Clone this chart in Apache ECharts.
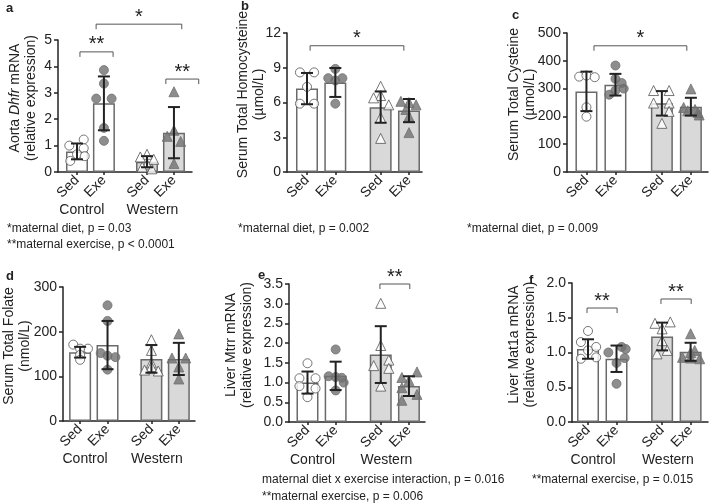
<!DOCTYPE html>
<html>
<head>
<meta charset="UTF-8">
<script src="https://cdn.jsdelivr.net/npm/echarts@6/dist/echarts.min.js"></script>
</head>
<body style="margin:0;background:#fff;">
<div id="main" style="width:709px;height:504px"></div>
<script type="text/javascript">
// categories
var barNames = ['Sed', 'Exe', 'Sed', 'Exe'];
var dietNames = ['Control', 'Western'];

// a: Aorta Dhfr mRNA
var aMean = [0.78, 2.6, 0.39, 1.49];
var aSD = [0.3, 1.02, 0.21, 0.97];
var aPts = [[1.23, 1.0, 0.9, 0.67, 0.6, 0.42], [3.86, 3.35, 2.78, 2.78, 1.67, 1.18], [0.67, 0.57, 0.48, 0.3, 0.19, 0.12], [3.04, 1.58, 1.35, 1.16, 0.32]];
var aSig = [[1.71, 4.89, 5.6, '*'], [1.11, 2.34, 4.55, '**'], [4.3, 5.52, 3.52, '**']];

// b: Serum Total Homocysteine
var bMean = [7.2, 7.73, 5.6, 5.3];
var bSD = [1.35, 1.25, 1.35, 1.0];
var bPts = [[8.6, 8.6, 7.35, 5.9, 5.9], [8.9, 8.1, 8.1, 7.9, 5.9], [7.4, 6.6, 6.4, 5.8, 4.7, 2.9], [6.1, 6.0, 5.8, 5.4, 4.8, 3.4]];
var bSig = [[1.11, 4.42, 10.9, '*']];

// c: Serum Total Cysteine
var cMean = [290, 314, 247, 235];
var cSD = [71, 39, 44, 32];
var cPts = [[343, 347, 341, 233, 199], [383, 335, 320, 300, 293, 278], [293, 293, 248, 248, 218, 175], [299, 232, 225, 220, 214, 205]];
var cSig = [[1.26, 4.46, 454, '*']];

// d: Serum Total Folate
var dMean = [154, 170, 139, 139];
var dSD = [12, 54, 31, 36];
var dPts = [[171, 162, 162, 148, 137], [259, 224, 152, 146, 143, 115], [182, 158, 130, 122, 114, 112], [195, 141, 141, 121, 94]];
var dSig = [];

// e: Liver Mtrr mRNA
var eMean = [1.0, 1.17, 1.71, 0.91];
var eSD = [0.28, 0.36, 0.72, 0.25];
var ePts = [[1.49, 1.11, 1.11, 0.91, 0.85, 0.63], [1.84, 1.16, 1.14, 1.12, 1.0, 0.8], [3.01, 1.94, 1.57, 1.43, 1.36, 0.91], [1.27, 1.13, 1.05, 0.87, 0.7, 0.55]];
var eSig = [[3.57, 4.63, 3.5, '**']];

// f: Liver Mat1a mRNA
var fMean = [1.05, 0.91, 1.23, 1.01];
var fSD = [0.14, 0.19, 0.2, 0.13];
var fPts = [[1.31, 1.15, 1.08, 1.03, 0.93, 0.91], [1.08, 1.05, 1.0, 0.92, 0.85, 0.55], [1.44, 1.42, 1.34, 1.17, 1.03, 0.98], [1.27, 1.03, 1.0, 0.93, 0.92, 0.91]];
var fSig = [[0.965, 2.02, 1.64, '**'], [3.56, 4.62, 1.77, '**']];

// horizontal scatter of dots (px) around each bar
var aJit = [[7, -8, 7, 0, 8, -7], [0, 0, -8, 8, 0, 0], [0, -7, 7, 0, -5, 5], [0, 0, -7, 7, 0]];
var bJit = [[-7, 7, 0, -7, 7], [0, -7, 7, 0, 0], [0, 0, -7, 8, 0, 0], [-8, 0, 7, -3, 0, 0]];
var cJit = [[-7, 0, 8, 0, 0], [0, 0, 6, 8, 0, -6], [-8, 7, -8, 7, 7, 0], [0, -7, 4, -3, 7, 8]];
var dJit = [[-7, 8, 0, 0, 0], [0, 0, -7, 0, 8, 0], [0, 0, 0, 0, -7, 7], [0, -7, 7, 0, 0]];
var eJit = [[0, -8, 8, -8, 8, 0], [0, -7, 0, 6, 8, 0], [0, 0, 8, -7, 8, 0], [8, -7, 0, -7, 8, -7]];
var fJit = [[0, -7, 8, 0, 8, -7], [5, 9, -8, 8, 0, 0], [8, -7, 0, 0, 5, -5], [0, 4, 0, -8, 0, 9]];

var FONT = 'Liberation Sans, Arial, Helvetica, sans-serif';
var INK = '#222';
var EDGE = '#6a6a6a';
var DOT = '#707070';
var WEST = '#d9d9d9';
var xPos = [1, 2, 3.6, 4.6];
var dietPos = [1.18, 3.8];

var panels = [
    {grid: {left: 58, top: 40, width: 134, height: 132}, xMin: 0.295, xMax: 5.27, yMax: 5, step: 1, dec: 0,
     name: 'Aorta {i|Dhfr} mRNA\n(relative expression)', gap: 19, diet: true,
     mean: aMean, sd: aSD, pts: aPts, jit: aJit, sig: aSig},
    {grid: {left: 287, top: 33, width: 135, height: 139}, xMin: 0.294, xMax: 5.06, yMax: 12, step: 3, dec: 0,
     name: 'Serum Total Homocysteine\n(µmol/L)', gap: 20, diet: false,
     mean: bMean, sd: bSD, pts: bPts, jit: bJit, sig: bSig},
    {grid: {left: 567, top: 33, width: 141, height: 139}, xMin: 0.33, xMax: 5.19, yMax: 500, step: 100, dec: 0,
     name: 'Serum Total Cysteine\n(µmol/L)', gap: 29, diet: false,
     mean: cMean, sd: cSD, pts: cPts, jit: cJit, sig: cSig},
    {grid: {left: 60, top: 287, width: 135, height: 134}, xMin: 0.376, xMax: 5.19, yMax: 300, step: 100, dec: 0,
     name: 'Serum Total Folate\n(nmol/L)', gap: 30, diet: true,
     mean: dMean, sd: dSD, pts: dPts, jit: dJit, sig: dSig},
    {grid: {left: 289, top: 284, width: 136, height: 138}, xMin: 0.344, xMax: 5.17, yMax: 3.5, step: 0.5, dec: 1,
     name: 'Liver Mtrr mRNA\n(relative expression)', gap: 34, diet: true,
     mean: eMean, sd: eSD, pts: ePts, jit: eJit, sig: eSig},
    {grid: {left: 572, top: 283, width: 136, height: 139}, xMin: 0.438, xMax: 5.21, yMax: 2, step: 0.5, dec: 1,
     name: 'Liver Mat1a mRNA\n(relative expression)', gap: 34, diet: true,
     mean: fMean, sd: fSD, pts: fPts, jit: fJit, sig: fSig}
];

// error bar: mean +/- SD with caps
function renderErr(params, api) {
    var x = api.value(0), m = api.value(1), s = api.value(2);
    var t = api.coord([x, m + s]), b = api.coord([x, m - s]);
    var w = 6, st = {stroke: INK, lineWidth: 2};
    return {type: 'group', children: [
        {type: 'line', shape: {x1: t[0], y1: t[1], x2: b[0], y2: b[1]}, style: st},
        {type: 'line', shape: {x1: t[0] - w, y1: t[1], x2: t[0] + w, y2: t[1]}, style: st},
        {type: 'line', shape: {x1: b[0] - w, y1: b[1], x2: b[0] + w, y2: b[1]}, style: st}
    ]};
}

// significance bracket
function bracketRenderer(sig) {
    return function (params, api) {
        var s = sig[params.dataIndex];
        var p1 = api.coord([s[0], s[2]]), p2 = api.coord([s[1], s[2]]);
        return {type: 'group', children: [
            {type: 'polyline', shape: {points: [[p1[0], p1[1] + 5], [p1[0], p1[1]], [p2[0], p2[1]], [p2[0], p2[1] + 5]]},
             style: {stroke: '#555', lineWidth: 1, fill: null}},
            {type: 'text', style: {text: s[3], x: (p1[0] + p2[0]) / 2, y: p1[1] - 7, fill: INK,
             fontSize: 20, fontFamily: FONT, align: 'center', verticalAlign: 'middle'}}
        ]};
    };
}

var grids = [], xAxes = [], yAxes = [], series = [];
panels.forEach(function (p, i) {
    grids.push(p.grid);
    xAxes.push({
        gridIndex: i, type: 'value', min: p.xMin, max: p.xMax,
        axisLine: {show: true, onZero: false, lineStyle: {color: INK, width: 1.5}},
        axisTick: {show: true, length: 3, customValues: xPos, lineStyle: {color: INK, width: 1.5}},
        axisLabel: {customValues: xPos, rotate: 45, fontSize: 14, fontFamily: FONT, color: INK, margin: 6,
            formatter: function (v) { return barNames[xPos.indexOf(v)]; }},
        splitLine: {show: false}
    });
    xAxes.push({
        gridIndex: i, type: 'value', min: p.xMin, max: p.xMax, position: 'bottom', offset: 23, show: p.diet,
        axisLine: {show: false}, axisTick: {show: false}, splitLine: {show: false},
        axisLabel: {customValues: dietPos, fontSize: 14, fontFamily: FONT, color: INK,
            formatter: function (v) { return v < 2.5 ? dietNames[0] : dietNames[1]; }}
    });
    yAxes.push({
        gridIndex: i, type: 'value', min: 0, max: p.yMax, interval: p.step,
        name: p.name, nameLocation: 'middle', nameRotate: 90, nameGap: p.gap, nameMoveOverlap: false,
        nameTextStyle: {fontSize: 14, fontFamily: FONT, color: INK, lineHeight: 16, padding: [0, 0, 0, 16],
            rich: {i: {fontStyle: 'italic', fontSize: 14, fontFamily: FONT, color: INK}}},
        axisLine: {show: true, lineStyle: {color: INK, width: 1.5}},
        axisTick: {show: true, length: 4, lineStyle: {color: INK, width: 1.5}},
        axisLabel: {fontSize: 14, fontFamily: FONT, color: INK, margin: 6,
            formatter: function (v) { return v.toFixed(p.dec); }},
        splitLine: {show: false}
    });
    series.push({
        type: 'bar', xAxisIndex: 2 * i, yAxisIndex: i, barWidth: 22, z: 1, silent: true,
        data: xPos.map(function (x, j) {
            return {value: [x, p.mean[j]], itemStyle: {color: j < 2 ? '#fff' : WEST, borderColor: EDGE, borderWidth: 1.5}};
        })
    });
    p.pts.forEach(function (vals, j) {
        series.push({
            type: 'scatter', xAxisIndex: 2 * i, yAxisIndex: i, z: 3, silent: true,
            symbol: j < 2 ? 'circle' : 'triangle', symbolSize: j < 2 ? 9 : 10,
            itemStyle: j % 2 === 0 ? {color: '#fff', borderColor: '#555', borderWidth: 1}
                                   : {color: DOT, borderColor: DOT, borderWidth: 1},
            data: vals.map(function (v, k) { return [xPos[j] + p.jit[j][k] / 28, v]; })
        });
    });
    series.push({
        type: 'custom', xAxisIndex: 2 * i, yAxisIndex: i, z: 4, silent: true,
        renderItem: renderErr, encode: {x: 0, y: 1},
        data: xPos.map(function (x, j) { return [x, p.mean[j], p.sd[j]]; })
    });
    if (p.sig.length) {
        series.push({
            type: 'custom', xAxisIndex: 2 * i, yAxisIndex: i, z: 4, silent: true, clip: false,
            renderItem: bracketRenderer(p.sig), encode: {x: 0, y: 1},
            data: p.sig.map(function (s) { return [s[0], s[2]]; })
        });
    }
});

function txt(x, y, s, bold) {
    return {type: 'text', x: x, y: y, style: {text: s, fill: INK, fontSize: bold ? 13 : 12,
        fontWeight: bold ? 'bold' : 'normal', fontFamily: FONT, verticalAlign: 'middle'}};
}

var myChart = echarts.init(document.getElementById('main'));
var option = {
    animation: false,
    backgroundColor: '#fff',
    grid: grids,
    xAxis: xAxes,
    yAxis: yAxes,
    series: series,
    graphic: [
        txt(6, 8, 'a', true), txt(241, 6, 'b', true), txt(512, 15, 'c', true),
        txt(6, 276, 'd', true), txt(258, 275, 'e', true), txt(529, 280, 'f', true),
        txt(7, 229, '*maternal diet, p = 0.03'),
        txt(7, 245, '**maternal exercise, p < 0.0001'),
        txt(238, 229, '*maternal diet, p = 0.002'),
        txt(467, 229, '*maternal diet, p = 0.009'),
        txt(262, 480, 'maternal diet x exercise interaction, p = 0.016'),
        txt(262, 497, '**maternal exercise, p = 0.006'),
        txt(532, 480, '**maternal exercise, p = 0.015')
    ]
};
myChart.setOption(option);
</script>
</body>
</html>
